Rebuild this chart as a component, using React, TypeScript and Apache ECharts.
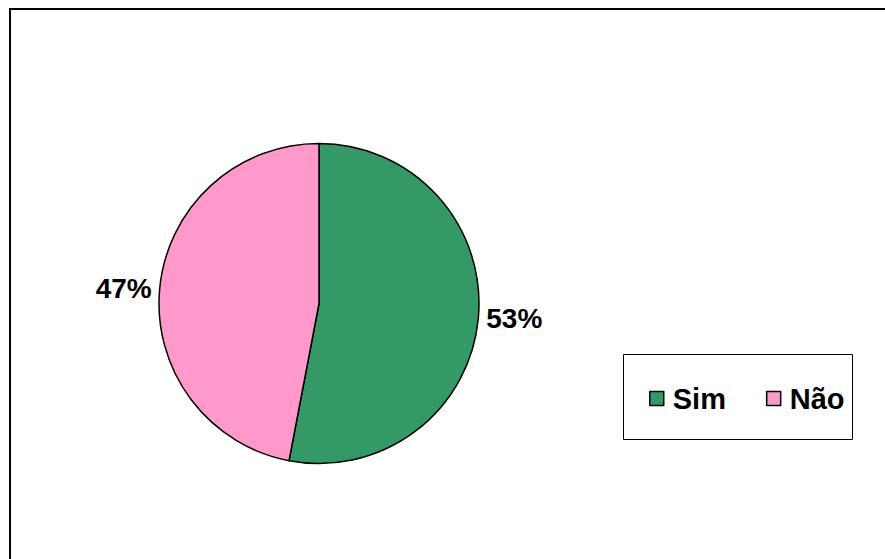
import React, { useEffect, useRef } from "react";
import * as echarts from "echarts";

const categories = ["Sim", "Não"];
const values = [53, 47];
const colors = ["#339966", "#FF99CC"];

export default function App() {
  const ref = useRef<HTMLDivElement>(null);
  useEffect(() => {
    if (!ref.current) return;
    const chart = echarts.init(ref.current, null, { renderer: "svg" });
    const font = "Liberation Sans, Arial, sans-serif";
    chart.setOption({
      animation: false,
      backgroundColor: "#ffffff",
      legend: {
        data: categories,
        orient: "horizontal",
        left: 649,
        top: 384,
        itemWidth: 14,
        itemHeight: 14,
        itemGap: 40,
        icon: "rect",
        padding: 0,
        itemStyle: { borderColor: "#000", borderWidth: 1.5 },
        textStyle: {
          fontFamily: font,
          fontWeight: "bold",
          fontSize: 29,
          color: "#000",
          padding: [2, 0, 0, 4],
        },
      },
      graphic: [
        {
          type: "polyline",
          shape: { points: [[10, 600], [10, 9], [900, 9]] },
          style: { stroke: "#000", lineWidth: 2, fill: null },
          silent: true,
        },
        {
          type: "rect",
          shape: { x: 623.5, y: 354.5, width: 229, height: 85 },
          style: { stroke: "#000", lineWidth: 1, fill: "#fff" },
          z: -1,
          silent: true,
        },
      ],
      series: [
        {
          type: "pie",
          center: [319, 303.5],
          radius: 160,
          startAngle: 90,
          clockwise: true,
          data: categories.map((c, i) => ({
            name: c,
            value: values[i],
            itemStyle: { color: colors[i] },
          })),
          itemStyle: { borderColor: "#000", borderWidth: 1.5 },
          label: {
            show: true,
            position: "outside",
            formatter: "{d}%",
            fontFamily: font,
            fontWeight: "bold",
            fontSize: 28,
            color: "#000",
          },
          labelLine: { show: false, length: 3, length2: 0 },
          emphasis: { disabled: true },
        },
      ],
    });
    return () => chart.dispose();
  }, []);
  return (
    <div
      ref={ref}
      style={{ position: "absolute", left: 0, top: 0, width: 885, height: 559 }}
    />
  );
}
